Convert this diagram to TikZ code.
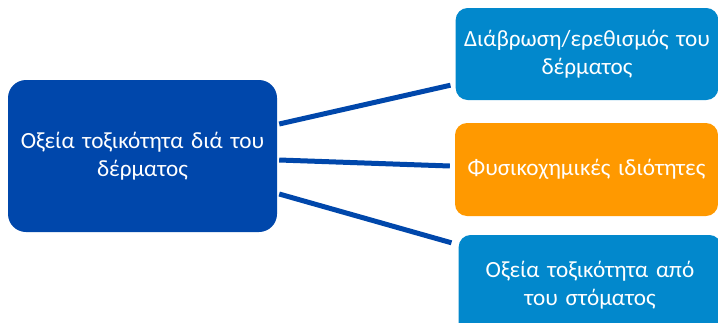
\documentclass[tikz,border=0pt]{standalone}
\usepackage{fontspec}
\setmainfont{Carlito}
\usepackage{tikz}
\usetikzlibrary{positioning}
\definecolor{tdblue}{HTML}{0047AB}
\definecolor{tdlight}{HTML}{0288CC}
\definecolor{tdorange}{HTML}{FF9900}

\begin{document}
\begin{tikzpicture}[
  x=1pt, y=-1pt,
  mainbox/.style={
    rectangle, rounded corners=18pt, fill=tdblue, text=white,
    minimum width=269pt, minimum height=152pt, text width=258pt,
    font=\fontsize{23.2}{28}\selectfont, align=center
  },
  sidebox/.style={
    rectangle, rounded corners=12pt, fill=tdlight, text=white,
    minimum width=262pt, minimum height=92pt, text width=256pt,
    font=\fontsize{23.2}{28}\selectfont, align=center
  },
  propbox/.style={sidebox, fill=tdorange},
  link/.style={line width=5pt, draw=tdblue},
]
\useasboundingbox (0,0) rectangle (718,322);

% Central topic
\node[mainbox] (dermal) at (142.5,156) {Οξεία τοξικότητα διά του\\δέρματος};

% Related endpoints
\node[sidebox] (irrit) at (587,54) {Διάβρωση/ερεθισμός του\\δέρματος};
\node[propbox, minimum width=263pt, minimum height=93pt] (physchem) at (586.5,169.5) {Φυσικοχημικές ιδιότητες};
\node[sidebox, minimum width=256pt, minimum height=100pt] (oral) at (590,285) {\raisebox{4pt}{\parbox{250pt}{\centering Οξεία τοξικότητα από\\του στόματος}}};

% Links
\draw[link] ([xshift=2pt,yshift=32pt]dermal.east) -- ([xshift=-5pt,yshift=15pt]irrit.south west);
\draw[link] ([xshift=2pt,yshift=-4pt]dermal.east) -- ([xshift=-5pt,yshift=3.5pt]physchem.west);
\draw[link] ([xshift=2pt,yshift=-38pt]dermal.east) -- ([xshift=-7pt,yshift=-8pt]oral.north west);

\end{tikzpicture}
\end{document}
